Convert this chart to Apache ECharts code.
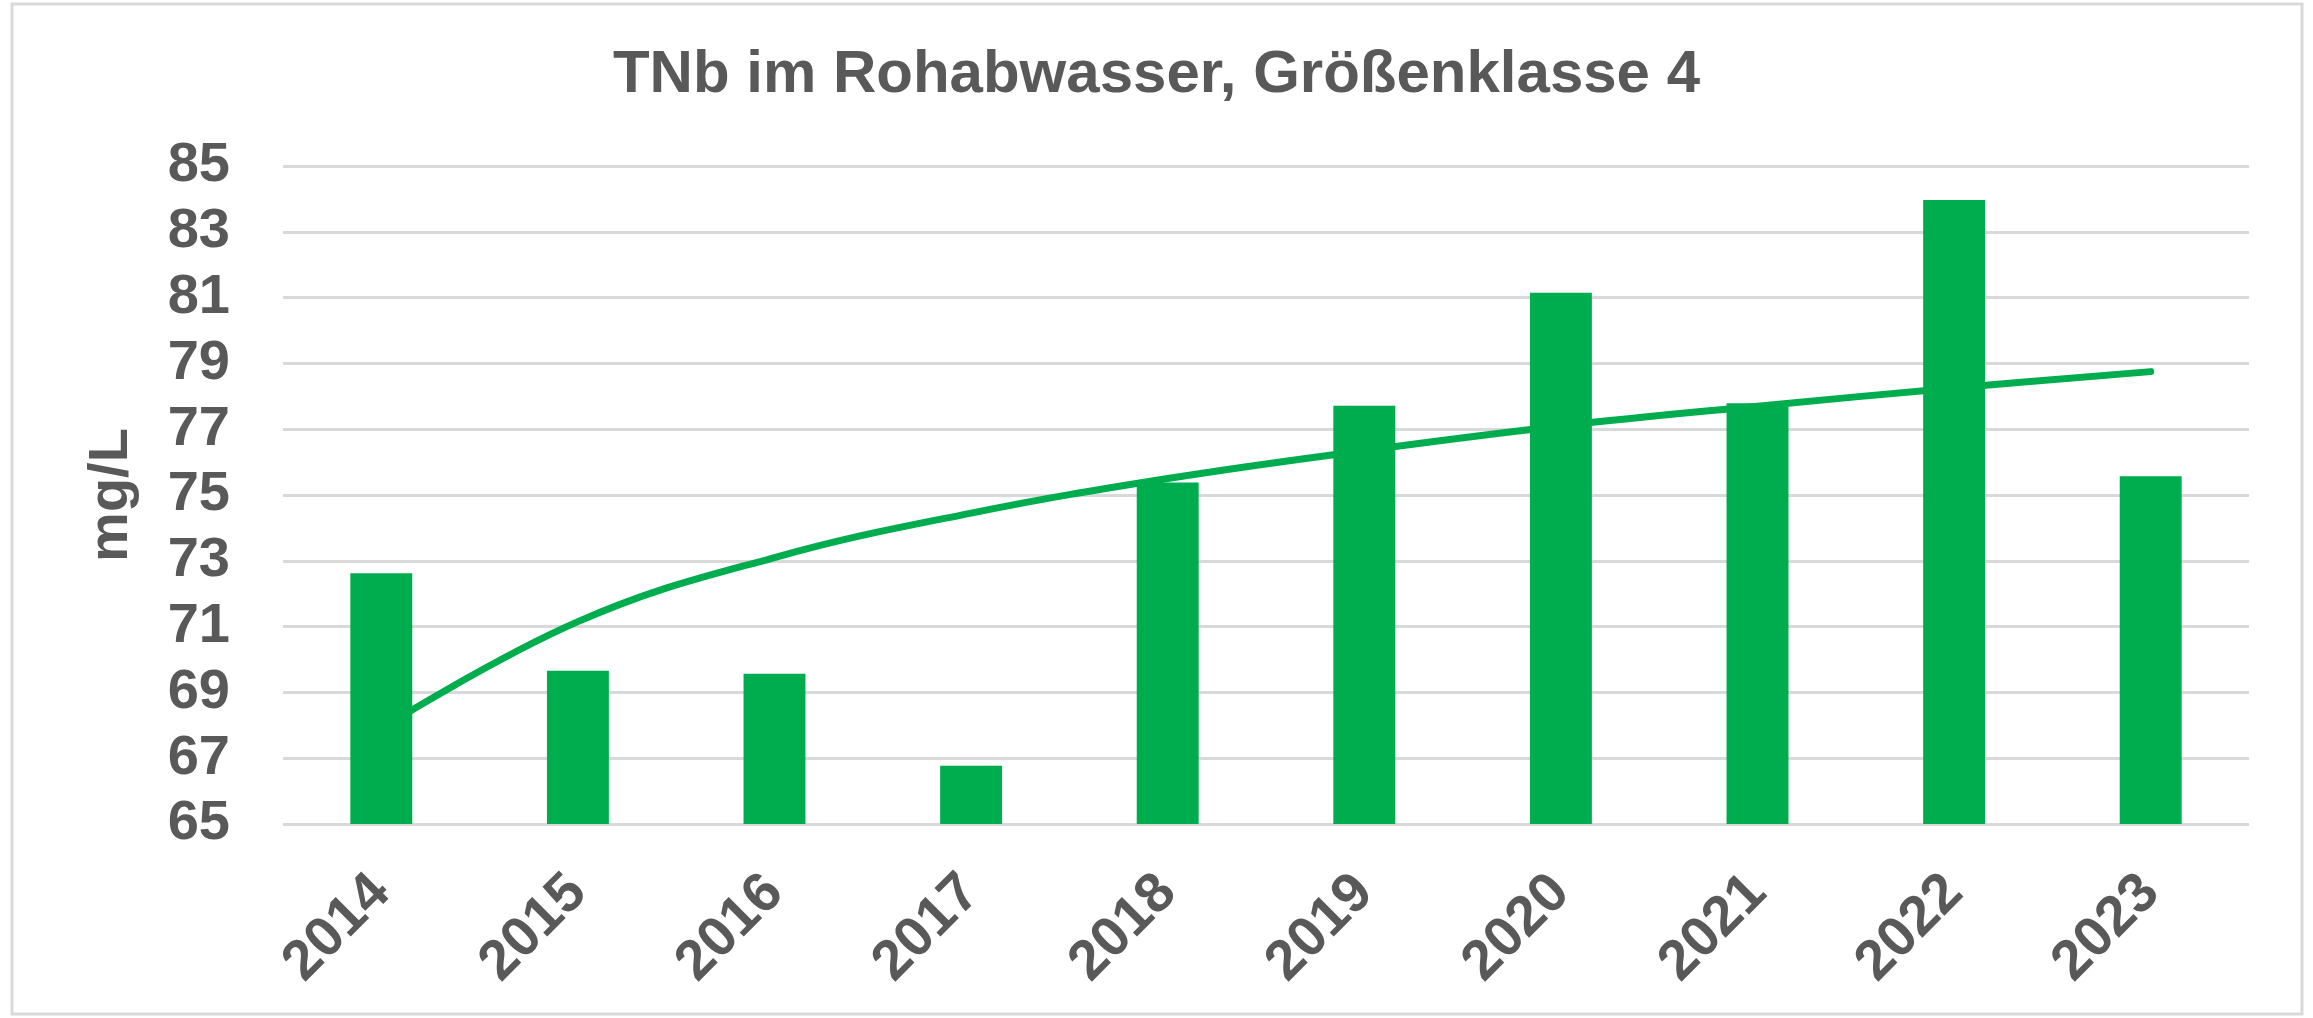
<!DOCTYPE html>
<html>
<head>
<meta charset="utf-8">
<title>TNb im Rohabwasser</title>
<script src="https://cdn.jsdelivr.net/npm/echarts@6/dist/echarts.min.js"></script>
<style>
  html, body { margin: 0; padding: 0; background: #fff; }
  #chart-container { width: 2313px; height: 1018px; }
</style>
</head>
<body>
<div id="chart-container"></div>
<script>
// values
const years = ['2014', '2015', '2016', '2017', '2018', '2019', '2020', '2021', '2022', '2023'];
const tnb = [72.62, 69.66, 69.57, 66.77, 75.38, 77.71, 81.15, 77.79, 83.97, 75.57];
// trend line (logarithmic in the original), read at each year
const trend = [67.9, 71.15, 73.1, 74.45, 75.5, 76.35, 77.1, 77.7, 78.25, 78.75];

const green = '#00AD4E';
const grey = '#595959';
const font = '"Liberation Sans", Arial, sans-serif';

const start = () => {
  const chartDom = document.getElementById('chart-container');
  const myChart = echarts.init(chartDom, null, { renderer: 'canvas' });
  const option = {
    animation: false,
    backgroundColor: '#fff',
    title: {
      text: 'TNb im Rohabwasser, Größenklasse 4',
      left: 'center',
      top: 40,
      textStyle: { fontFamily: font, fontSize: 60, fontWeight: 'bold', color: grey }
    },
    graphic: [
      {
        type: 'rect',
        shape: { x: 12, y: 4, width: 2290, height: 1010 },
        style: { fill: 'none', stroke: '#d9d9d9', lineWidth: 3 },
        silent: true
      }
    ],
    grid: {
      left: 283,
      right: 64,
      top: 166,
      bottom: 194,
      outerBoundsMode: 'none'
    },
    xAxis: {
      type: 'category',
      data: years,
      axisLine: { show: false },
      axisTick: { show: false },
      axisLabel: {
        rotate: 45,
        margin: 60,
        fontFamily: font,
        fontSize: 56,
        fontWeight: 'bold',
        color: grey
      }
    },
    yAxis: {
      type: 'value',
      min: 65,
      max: 85,
      interval: 2,
      name: 'mg/L',
      nameLocation: 'middle',
      nameGap: 143,
      nameRotate: 90,
      nameTextStyle: { fontFamily: font, fontSize: 56, fontWeight: 'bold', color: grey },
      axisLine: { show: false },
      axisTick: { show: false },
      axisLabel: {
        margin: 53,
        fontFamily: font,
        fontSize: 56,
        fontWeight: 'bold',
        color: grey
      },
      splitLine: { lineStyle: { color: '#d9d9d9', width: 3 } }
    },
    series: [
      {
        name: 'TNb',
        type: 'bar',
        data: tnb,
        barWidth: '31.5%',
        z: 3,
        itemStyle: { color: green }
      },
      {
        name: 'Trend',
        type: 'line',
        data: trend,
        smooth: 0.4,
        showSymbol: false,
        symbol: 'none',
        z: 2,
        lineStyle: { color: green, width: 7, cap: 'round' }
      }
    ]
  };
  myChart.setOption(option);
};

start();
</script>
</body>
</html>
